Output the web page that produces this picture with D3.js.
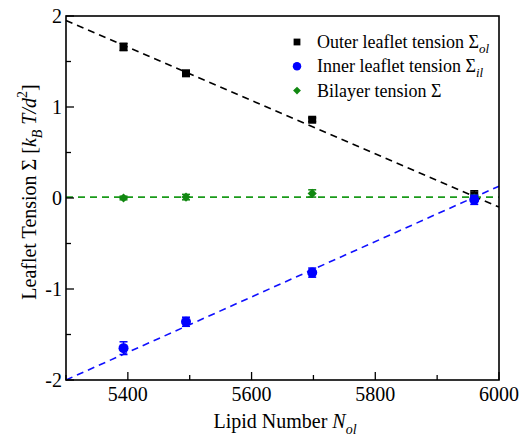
<!DOCTYPE html>
<html><head><meta charset="utf-8">
<script src="https://cdn.jsdelivr.net/npm/d3@7"></script>
<style>body{margin:0;background:#fff}text{font-family:'Liberation Serif','Times New Roman',Times,'DejaVu Serif',serif}</style>
</head><body><svg id="c" width="522" height="440"></svg>
<script>
const lipidN = [5393, 5494, 5698, 5960];
const outerT = [1.66, 1.37, 0.86, 0.03];
const outerErr = [0.04, 0.03, 0.02, 0.05];
const innerT = [-1.65, -1.36, -0.82, -0.02];
const innerErr = [0.07, 0.05, 0.05, 0.05];
const bilayerT = [0.0, 0.01, 0.05, 0.0];
const bilayerErr = [0.02, 0.03, 0.04, 0.03];
const outerFit = [[5300, 1.95], [6000, -0.10]];
const innerFit = [[5300, -2.0], [6000, 0.13]];
const bilayerFit = [[5300, 0.01], [6000, 0.01]];
const xTicks = [5400, 5600, 5800, 6000];
const xMinor = [5300, 5500, 5700, 5900];
const yTicks = [-2, -1, 0, 1, 2];
const yMinor = [-1.5, -0.5, 0.5, 1.5];
const legendLabels = ["Outer leaflet tension Σ", "Inner leaflet tension Σ", "Bilayer tension Σ"];
const legendSubs = ["ol", "il", ""];

const svg = d3.select("#c");
const L = 66, R = 499, T = 16, B = 380;
const x = d3.scaleLinear().domain([5300, 6000]).range([L, R]);
const y = d3.scaleLinear().domain([-2, 2]).range([B, T]);

// fit lines
const line = d3.line().x(d => x(d[0])).y(d => y(d[1]));
const fits = [[outerFit, "#000"], [innerFit, "#1010ff"], [bilayerFit, "#1a9a1a"]];
const gFit = svg.append("g");
fits.forEach(([d, c]) => {
  gFit.append("path").attr("d", line(d)).attr("fill", "none")
    .attr("stroke", c).attr("stroke-width", 1.6).attr("stroke-dasharray", "7,5");
});

// series
const series = [
  {vals: outerT, err: outerErr, color: "#000", shape: "square"},
  {vals: bilayerT, err: bilayerErr, color: "#118811", shape: "diamond"},
  {vals: innerT, err: innerErr, color: "#0000ff", shape: "circle"}
];
function drawMarker(g, shape, cx, cy, color, s) {
  if (shape === "square") {
    g.append("rect").attr("x", cx - 4*s).attr("y", cy - 4*s).attr("width", 8*s).attr("height", 8*s).attr("fill", color);
  } else if (shape === "circle") {
    g.append("circle").attr("cx", cx).attr("cy", cy).attr("r", 5*s).attr("fill", color);
  } else {
    const r = 4.6*s;
    g.append("path").attr("d", `M${cx},${cy-r}L${cx+r},${cy}L${cx},${cy+r}L${cx-r},${cy}Z`).attr("fill", color);
  }
}
const gS = svg.append("g");
series.forEach(s => {
  lipidN.forEach((n, i) => {
    const cx = x(n), cy = y(s.vals[i]);
    const y1 = y(s.vals[i] + s.err[i]), y2 = y(s.vals[i] - s.err[i]);
    gS.append("line").attr("x1", cx).attr("x2", cx).attr("y1", y1).attr("y2", y2).attr("stroke", s.color).attr("stroke-width", 1.5);
    [y1, y2].forEach(yy => gS.append("line").attr("x1", cx - 4).attr("x2", cx + 4).attr("y1", yy).attr("y2", yy).attr("stroke", s.color).attr("stroke-width", 1.5));
    drawMarker(gS, s.shape, cx, cy, s.color, 1);
  });
});

// frame
svg.append("rect").attr("x", L).attr("y", T).attr("width", R - L).attr("height", B - T)
  .attr("fill", "none").attr("stroke", "#000").attr("stroke-width", 1.6);

// ticks (inside)
const gA = svg.append("g").attr("stroke", "#000").attr("stroke-width", 1.3);
xTicks.forEach(t => gA.append("line").attr("x1", x(t)).attr("x2", x(t)).attr("y1", B).attr("y2", B - 8));
xMinor.forEach(t => gA.append("line").attr("x1", x(t)).attr("x2", x(t)).attr("y1", B).attr("y2", B - 5));
yTicks.forEach(t => gA.append("line").attr("x1", L).attr("x2", L + 8).attr("y1", y(t)).attr("y2", y(t)));
yMinor.forEach(t => gA.append("line").attr("x1", L).attr("x2", L + 5).attr("y1", y(t)).attr("y2", y(t)));

const fs = 20;
const gT = svg.append("g").attr("font-size", fs).attr("fill", "#000");
xTicks.forEach(t => gT.append("text").attr("x", x(t)).attr("y", 401).attr("text-anchor", "middle").text(t));
yTicks.forEach(t => gT.append("text").attr("x", L - 4).attr("y", y(t) + 7).attr("text-anchor", "end").text(t));

// x title
const xt = gT.append("text").attr("x", 285).attr("y", 428).attr("text-anchor", "middle");
xt.append("tspan").text("Lipid Number ");
xt.append("tspan").attr("font-style", "italic").text("N");
xt.append("tspan").attr("font-style", "italic").attr("font-size", 14).attr("dy", 6).text("ol");

// y title
const yt = gT.append("text").attr("transform", "translate(36,192) rotate(-90)").attr("text-anchor", "middle");
yt.append("tspan").text("Leaflet Tension Σ [");
yt.append("tspan").attr("font-style", "italic").text("k");
yt.append("tspan").attr("font-style", "italic").attr("font-size", 14).attr("dy", 6).text("B");
yt.append("tspan").attr("font-style", "italic").attr("dy", -6).text(" T/d");
yt.append("tspan").attr("font-size", 14).attr("dy", -9).text("2");
yt.append("tspan").attr("dy", 9).text("]");

// legend
const legShapes = ["square", "circle", "diamond"];
const legColors = ["#000", "#0000ff", "#118811"];
const gL = svg.append("g").attr("font-size", 18).attr("fill", "#000");
legendLabels.forEach((lab, i) => {
  const cy = 42 + i * 24.3;
  drawMarker(gL, legShapes[i], 297, cy, legColors[i], 0.85);
  const t = gL.append("text").attr("x", 317).attr("y", cy + 6);
  t.append("tspan").text(lab);
  if (legendSubs[i]) t.append("tspan").attr("font-style", "italic").attr("font-size", 13).attr("dy", 5).text(legendSubs[i]);
});
</script></body></html>
